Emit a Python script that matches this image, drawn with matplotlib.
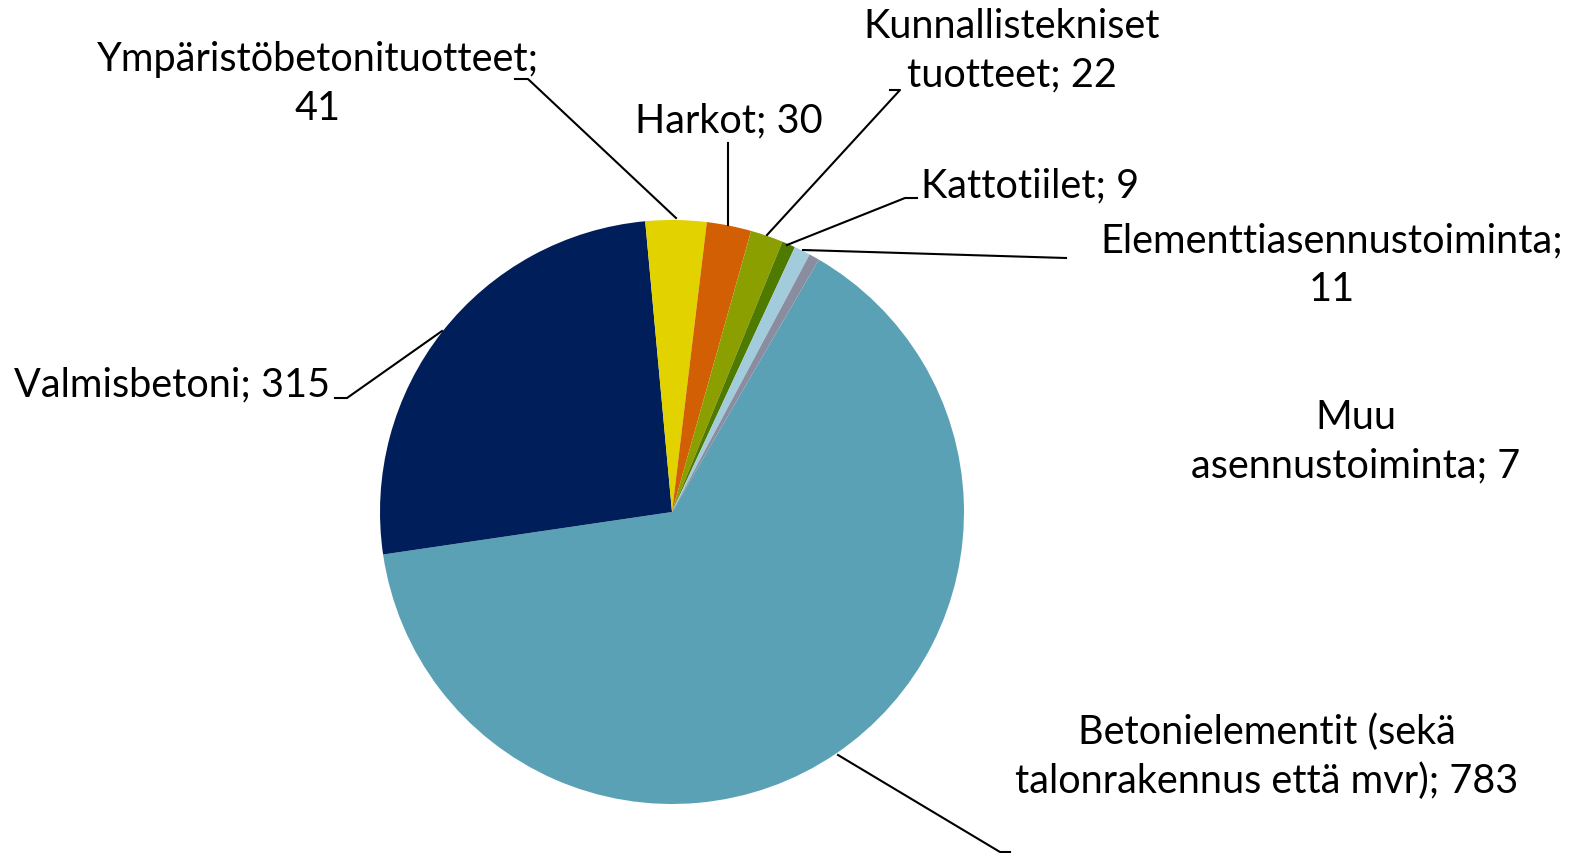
import matplotlib.pyplot as plt

# data, clockwise from the big slice
labels = ['Betonielementit (sekä\ntalonrakennus että mvr); 783',
          'Valmisbetoni; 315',
          'Ympäristöbetonituotteet;\n41',
          'Harkot; 30',
          'Kunnallistekniset\ntuotteet; 22',
          'Kattotiilet; 9',
          'Elementtiasennustoiminta;\n11',
          'Muu\nasennustoiminta; 7']
values = [783, 315, 41, 30, 22, 9, 11, 7]
colors = ['#5BA1B5', '#001F5A', '#E2D200', '#D35F05',
          '#8BA000', '#4F7A00', '#A2CBDB', '#8A8CA0']

W, H = 1577, 854
fig = plt.figure(figsize=(W / 100, H / 100), dpi=100)
ax = fig.add_axes([0, 0, 1, 1])

cx, cy, r = 672, H - 513, 292
ax.pie(values, colors=colors, startangle=90 - 30.2, counterclock=False,
       center=(cx, cy), radius=r, wedgeprops=dict(linewidth=0))

# label positions (pixel coords, y from top)
label_pos = [(1267, 757), (172, 385), (318, 84), (729, 121),
             (1012, 51), (1030, 186), (1332, 265), (1356, 442)]
for txt, (x, y) in zip(labels, label_pos):
    ax.text(x, H - y, txt, ha='center', va='center', fontsize=28.5,
            family='Lato', linespacing=1.38, color='black')

# leader lines
leaders = [[(838, 756), (1000, 853), (1010, 853)],
           [(335, 399), (347, 399), (442, 332)],
           [(515, 80), (528, 80), (676, 219)],
           [(728, 144), (728, 226)],
           [(890, 91), (900, 91), (767, 236)],
           [(917, 199), (905, 199), (787, 246)],
           [(1066, 259), (803, 251)]]
for pts in leaders:
    ax.plot([p[0] for p in pts], [H - p[1] for p in pts], color='black', lw=1.5)

ax.set_xlim(0, W)
ax.set_ylim(0, H)
ax.set_aspect('equal')
ax.axis('off')
fig.savefig('out.png', dpi=100)
